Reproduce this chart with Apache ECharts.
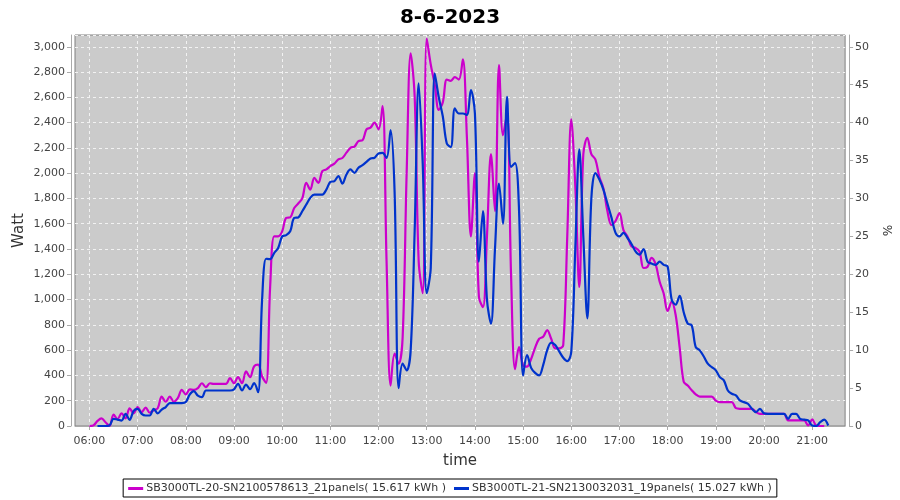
<!DOCTYPE html>
<html>
<head>
<meta charset="utf-8">
<script src="https://cdn.jsdelivr.net/npm/echarts@6/dist/echarts.min.js"></script>
<style>html,body{margin:0;padding:0;background:#fff}#c{width:900px;height:500px}</style>
</head>
<body>
<div id="c"></div>
<script>
// Sampling grid: 5-minute readings starting 06:00
var startMinute = 360, stepMinutes = 5;
var hourTicks = ["06:00","07:00","08:00","09:00","10:00","11:00","12:00","13:00","14:00","15:00","16:00","17:00","18:00","19:00","20:00","21:00"];
var seriesNames = ["SB3000TL-20-SN2100578613_21panels( 15.617 kWh )", "SB3000TL-21-SN2130032031_19panels( 15.027 kWh )"];

var sb20 = [
0,5,40,60,30,0,90,55,100,60,140,100,150,110,145,105,125,140,232,192,
232,192,220,285,250,290,285,300,338,307,338,333,333,333,333,378,338,387,338,432,
387,472,485,392,340,1100,1500,1500,1540,1646,1650,1725,1760,1800,1924,1870,1963,1924,2016,2030,
2056,2075,2109,2120,2162,2201,2210,2254,2260,2347,2360,2400,2347,2530,1300,320,572,493,700,2000,
2948,2604,1300,1050,3067,2860,2700,2500,2560,2740,2730,2760,2740,2900,2287,1500,2000,1020,940,1500,
2150,1700,2855,2300,2472,1200,450,624,479,470,530,620,690,706,759,690,614,614,640,1500,
2426,1900,1100,2150,2280,2150,2109,1970,1880,1700,1590,1620,1685,1550,1500,1420,1408,1380,1250,1260,
1330,1280,1143,1050,910,984,878,620,350,320,283,250,233,233,233,233,200,189,189,189,
189,141,136,136,136,136,110,96,96,96,96,96,96,96,44,44,44,44,44,4,
52,4,0,0
];
var sb21 = [
null,null,0,0,0,5,57,50,43,96,49,120,136,96,83,83,136,100,130,150,
181,181,181,181,190,250,276,240,228,281,281,281,281,281,281,281,290,334,281,328,
292,339,267,1000,1323,1320,1368,1408,1500,1510,1540,1646,1650,1699,1752,1805,1831,1831,1831,1870,
1931,1937,1977,1918,1990,2030,2003,2043,2063,2090,2116,2122,2156,2160,2120,2340,1850,300,493,440,
598,1548,2710,2076,1050,1250,2790,2600,2450,2235,2208,2512,2472,2472,2460,2657,2472,1300,1700,1000,
809,1400,1918,1600,2604,2050,2080,1700,400,560,460,420,400,482,600,660,640,590,540,513,
587,1400,2188,1500,852,1800,2000,1950,1870,1760,1650,1530,1500,1527,1487,1440,1381,1355,1400,1300,
1285,1275,1300,1275,1262,1000,960,1030,900,810,796,624,598,550,493,466,440,387,361,281,
255,242,202,189,176,136,110,136,100,96,96,96,96,96,57,96,96,57,50,44,
4,0,30,50,4
];

function toMin(s){var p=s.split(':');return (+p[0])*60+(+p[1]);}
function pairs(vals){return vals.map(function(v,i){return [startMinute+stepMinutes*i, v];});}
var tickMins = hourTicks.map(toMin);

var chart = echarts.init(document.getElementById('c'), null, {renderer:'canvas'});
var tickFont = {fontFamily:'DejaVu Sans', fontSize:11, color:'#444'};
chart.setOption({
  animation:false,
  backgroundColor:'#fff',
  title:{text:'8-6-2023', left:'center', top:3, textStyle:{fontFamily:'DejaVu Sans', fontSize:20, fontWeight:'bold', color:'#000'}},
  grid:{left:75, right:53, top:35, bottom:74, show:true, backgroundColor:'#cbcbcb', borderColor:'#808080', borderWidth:1},
  legend:{
    bottom:3, left:'center', data:seriesNames, icon:'rect', itemWidth:15, itemHeight:3, itemGap:8,
    borderColor:'#000', borderWidth:1, backgroundColor:'#fff', padding:[4,5,3,5],
    textStyle:{fontFamily:'DejaVu Sans', fontSize:11, color:'#333', padding:[0,0,0,-2]}
  },
  xAxis:{
    type:'value', min:342, max:1301, offset:4,
    name:'time', nameLocation:'middle', nameGap:24,
    nameTextStyle:{fontFamily:'DejaVu Sans', fontSize:15, color:'#333'},
    axisLine:{show:true, lineStyle:{color:'#aaa'}},
    axisTick:{show:true, length:4, customValues:tickMins, lineStyle:{color:'#aaa'}},
    axisLabel:Object.assign({customValues:tickMins, margin:6, formatter:function(v){var h=Math.floor(v/60),m=v%60;return (h<10?'0':'')+h+':'+(m<10?'0':'')+m;}}, tickFont),
    splitLine:{show:true, lineStyle:{color:'#f2f2f2', type:[3,3], width:1}}
  },
  yAxis:[{
    type:'value', min:0, max:3093, interval:200, offset:4, position:'left',
    name:'Watt', nameLocation:'middle', nameGap:44, nameRotate:90, nameMoveOverlap:false,
    nameTextStyle:{fontFamily:'DejaVu Sans', fontSize:15, color:'#333'},
    axisLine:{show:true, lineStyle:{color:'#aaa'}},
    axisTick:{show:true, length:4, lineStyle:{color:'#aaa'}},
    axisLabel:Object.assign({showMaxLabel:false, margin:6, formatter:function(v){return v.toLocaleString('en-US');}}, tickFont),
    splitLine:{show:true, lineStyle:{color:'#f2f2f2', type:[3,3], width:1}}
  },{
    type:'value', min:0, max:51.55, interval:5, offset:4, position:'right',
    name:'%', nameLocation:'middle', nameGap:22, nameRotate:-90,
    nameTextStyle:{fontFamily:'DejaVu Sans', fontSize:12, color:'#333'},
    axisLine:{show:true, lineStyle:{color:'#aaa'}},
    axisTick:{show:true, length:4, lineStyle:{color:'#aaa'}},
    axisLabel:Object.assign({showMaxLabel:false, margin:6}, tickFont),
    splitLine:{show:false}
  }],
  series:[{
    name:seriesNames[0], type:'line', data:pairs(sb20), smooth:0.35, showSymbol:false,
    lineStyle:{color:'#cc00cc', width:2.2}, itemStyle:{color:'#cc00cc'}, z:3
  },{
    name:seriesNames[1], type:'line', data:pairs(sb21), smooth:0.35, showSymbol:false,
    lineStyle:{color:'#0033cc', width:2.2}, itemStyle:{color:'#0033cc'}, z:4
  }]
});
</script>
</body>
</html>
